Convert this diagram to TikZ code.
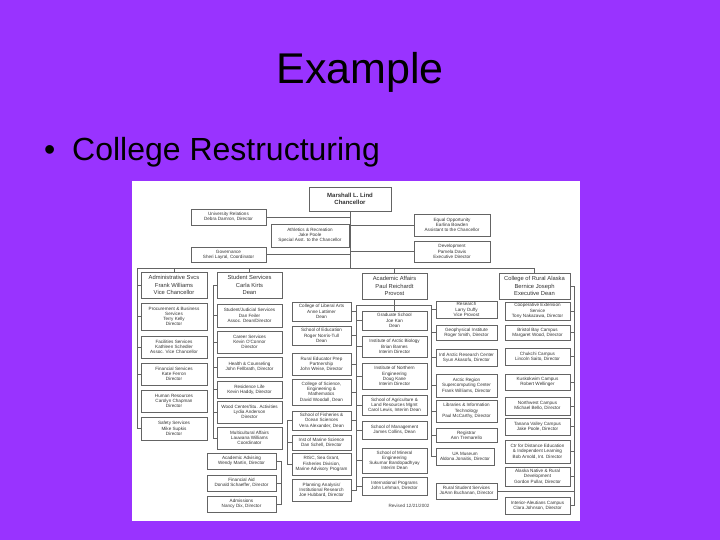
\documentclass[tikz,border=0pt]{standalone}
\usepackage{fontspec}
\setmainfont{Liberation Sans}
\definecolor{bg}{RGB}{153,51,255}
\definecolor{ln}{RGB}{100,100,100}
\tikzset{
 box/.style={draw=ln, line width=0.5pt, fill=white, inner sep=0pt, align=center,
   font=\fontsize{4.6}{5.2}\selectfont, text=black!80},
 big/.style={font=\fontsize{5.8}{7.2}\selectfont},
 conn/.style={draw=ln, line width=0.5pt},
}
\newcommand\orgbox[7][]{%
 \pgfmathsetmacro\bw{#4-#2}\pgfmathsetmacro\bh{#5-#3}%
 \node[box,#1,minimum width=\bw pt,minimum height=\bh pt] (#6) at ({(#2+#4)/2},{(#3+#5)/2}) {#7};}
\begin{document}
\begin{tikzpicture}[x=1pt,y=-1pt]
\fill[bg] (0,0) rectangle (720,540);
\useasboundingbox (0,0) rectangle (720,540);
% title and bullet
\node[anchor=base,inner sep=0pt,font=\fontsize{43}{43}\selectfont] (title) at (360,84) {Example};
\node[anchor=base west,inner sep=0pt,font=\fontsize{32}{32}\selectfont] (bul) at (44,161) {•};
\node[anchor=base west,inner sep=0pt,font=\fontsize{32}{32}\selectfont] (item) at (72,161) {College Restructuring};
% chart background
\fill[white] (132,181) rectangle (580,521);
% top level
\orgbox[font=\fontsize{6}{7.4}\selectfont\bfseries]{309}{187}{391}{211}{chanc}{Marshall L. Lind\\Chancellor}
\orgbox{191}{209}{266}{225}{ur}{University Relations\\Debra Damron, Director}
\orgbox{191}{247}{266}{262}{gov}{Governance\\Sheri Layral, Coordinator}
\orgbox{271}{224}{349}{247}{ath}{Athletics \& Recreation\\Jake Poole\\Special Asst. to the Chancellor}
\orgbox{414}{214}{490}{236}{eo}{Equal Opportunity\\Earlina Bowden\\Assistant to the Chancellor}
\orgbox{414}{241}{490}{262}{dev}{Development\\Pamela Davis\\Executive Director}
% level 2
\orgbox[big]{141}{272}{207}{298}{admin}{Administrative Svcs\\Frank Williams\\Vice Chancellor}
\orgbox[big]{217}{272}{282}{298}{ss}{Student Services\\Carla Kirts\\Dean}
\orgbox[big]{362}{273}{427}{299}{aa}{Academic Affairs\\Paul Reichardt\\Provost}
\orgbox[big]{499}{273}{570}{299}{cra}{College of Rural Alaska\\Bernice Joseph\\Executive Dean}
% admin column
\orgbox{141}{303}{207}{330}{proc}{Procurement \& Business\\Services\\Terry Kelly\\Director}
\orgbox{141}{336}{207}{358}{fac}{Facilities Services\\Kathleen Schedler\\Assoc. Vice Chancellor}
\orgbox{141}{363}{207}{385}{fin}{Financial Services\\Kate Ferron\\Director}
\orgbox{141}{390}{207}{412}{hr}{Human Resources\\Carolyn Chapman\\Director}
\orgbox{141}{417}{207}{440}{safe}{Safety Services\\Mike Supkis\\Director}
% student column
\orgbox{217}{304}{282}{327}{sjs}{Student/Judicial Services\\Dan Feiler\\Assoc. Dean/Director}
\orgbox{217}{331}{282}{353}{car}{Career Services\\Kevin O'Connor\\Director}
\orgbox{217}{357}{282}{377}{hc}{Health \& Counseling\\John Fellbrath, Director}
\orgbox{217}{381}{282}{398}{rl}{Residence Life\\Kevin Haddy, Director}
\orgbox{217}{401}{282}{423}{wc}{Wood Center/Stu. Activities\\Lydia Anderson\\Director}
\orgbox{217}{427}{282}{449}{mc}{Multicultural Affairs\\Lauwana Williams\\Coordinator}
% bottom left
\orgbox{207}{453}{276}{469}{acad}{Academic Advising\\Wendy Martin, Director}
\orgbox{207}{475}{276}{491}{fa}{Financial Aid\\Donald Schaeffer, Director}
\orgbox{207}{496}{276}{512}{adm}{Admissions\\Nancy Dix, Director}
% middle left
\orgbox{292}{302}{351}{321}{cla}{College of Liberal Arts\\Anne Lattimer\\Dean}
\orgbox{292}{326}{351}{345}{soe}{School of Education\\Roger Norris-Tull\\Dean}
\orgbox{292}{353}{351}{375}{repp}{Rural Educator Prep\\Partnership\\John Weise, Director}
\orgbox{292}{379}{351}{405}{csem}{College of Science,\\Engineering \&\\Mathematics\\David Woodall, Dean}
\orgbox{292}{411}{351}{430}{sfos}{School of Fisheries \&\\Ocean Sciences\\Vera Alexander, Dean}
\orgbox{292}{435}{351}{450}{ims}{Inst of Marine Science\\Dan Schell, Director}
\orgbox{292}{453}{351}{475}{risc}{RISC, Sea Grant,\\Fisheries Division,\\Marine Advisory Program}
\orgbox{292}{479}{351}{501}{pair}{Planning Analysis/\\Institutional Research\\Joe Hubbard, Director}
% middle right
\orgbox{362}{311}{427}{330}{grad}{Graduate School\\Joe Kan\\Dean}
\orgbox{362}{336}{427}{357}{iab}{Institute of Arctic Biology\\Brian Barnes\\Interim Director}
\orgbox{362}{363}{427}{389}{ine}{Institute of Northern\\Engineering\\Doug Kane\\Interim Director}
\orgbox{362}{395}{427}{415}{salrm}{School of Agriculture \&\\Land Resources Mgmt\\Carol Lewis, Interim Dean}
\orgbox{362}{421}{427}{439}{som}{School of Management\\James Collins, Dean}
\orgbox{362}{448}{427}{473}{sme}{School of Mineral\\Engineering\\Sukumar Bandopadhyay\\Interim Dean}
\orgbox{362}{477}{427}{495}{ip}{International Programs\\John Lehman, Director}
\node[inner sep=0pt,font=\fontsize{4.6}{5.2}\selectfont,text=black!75] (rev) at (409,506) {Revised 12/21/2002};
% research column
\orgbox{436}{301}{497}{318}{res}{Research\\Larry Duffy\\Vice Provost}
\orgbox{436}{325}{497}{340}{gi}{Geophysical Institute\\Roger Smith, Director}
\orgbox{436}{349}{497}{366}{iarc}{Intl Arctic Research Center\\Syun Akasofu, Director}
\orgbox{436}{374}{497}{397}{arsc}{Arctic Region\\Supercomputing Center\\Frank Williams, Director}
\orgbox{436}{400}{497}{422}{lib}{Libraries \& Information\\Technology\\Paul McCarthy, Director}
\orgbox{436}{428}{497}{442}{reg}{Registrar\\Ann Tremarello}
\orgbox{436}{448}{494}{465}{mus}{UA Museum\\Aldona Jonaitis, Director}
\orgbox{436}{483}{497}{499}{rss}{Rural Student Services\\JoAnn Buchanan, Director}
% CRA column
\orgbox{505}{302}{570}{320}{ces}{Cooperative Extension\\Service\\Tony Nakazawa, Director}
\orgbox{505}{325}{570}{340}{bb}{Bristol Bay Campus\\Margaret Wood, Director}
\orgbox{505}{348}{570}{365}{chuk}{Chukchi Campus\\Lincoln Saito, Director}
\orgbox{505}{374}{570}{390}{kusk}{Kuskokwim Campus\\Robert Wellinger}
\orgbox{505}{397}{570}{415}{nw}{Northwest Campus\\Michael Bello, Director}
\orgbox{505}{418}{570}{435}{tvc}{Tanana Valley Campus\\Jake Poole, Director}
\orgbox{505}{440}{570}{463}{cde}{Ctr for Distance Education\\\& Independent Learning\\Bob Arnold, Int. Director}
\orgbox{505}{467}{570}{486}{anrd}{Alaska Native \& Rural\\Development\\Gordon Pullar, Director}
\orgbox{505}{497}{570}{514}{iac}{Interior-Aleutians Campus\\Clara Johnson, Director}
% connectors
\coordinate (hl) at (174,268);
\coordinate (hr) at (534.5,268);
\draw[conn] (hl) -- (hr);
\draw[conn] (chanc.south) -- (chanc.south |- hl);
\foreach \n in {admin,ss,aa,cra} \draw[conn] (\n.north) -- (\n.north |- hl);
\foreach \n in {ur,gov,ath} \draw[conn] (\n.east) -- (\n.east -| chanc.south);
\foreach \n in {eo,dev} \draw[conn] (\n.west) -- (\n.west -| chanc.south);
% admin spine
\coordinate (asp) at (137,285);
\draw[conn] (admin.west) -- (asp);
\foreach \n in {proc,fac,fin,hr,safe} \draw[conn] (asp) |- (\n.west);
% student spine
\coordinate (ssp) at (213,285);
\draw[conn] (ss.west) -- (ssp);
\foreach \n in {sjs,car,hc,rl,wc,mc} \draw[conn] (ssp) |- (\n.west);
% academic
\coordinate (al) at (356.5,305);
\coordinate (ar) at (431,305);
\draw[conn] (aa.south) -- (grad.north);
\draw[conn] (al) -- (ar);
\foreach \n in {cla,soe,repp,csem,sfos,pair} \draw[conn] (al) |- (\n.east);
\foreach \n in {grad,iab,ine,salrm,som,sme,ip} \draw[conn] (al) |- (\n.west);
\foreach \n in {res,gi,iarc,arsc,lib,reg,mus} \draw[conn] (ar) |- (\n.west);
\coordinate (fs) at (287,420.5);
\draw[conn] (sfos.west) -- (fs);
\foreach \n in {ims,risc} \draw[conn] (fs) |- (\n.west);
\coordinate (adv) at (281,461);
\draw[conn] (acad.east) -- (adv);
\foreach \n in {fa,adm} \draw[conn] (adv) |- (\n.east);
% CRA spine
\coordinate (csp) at (574,286);
\draw[conn] (cra.east) -- (csp);
\foreach \n in {ces,bb,chuk,kusk,nw,tvc,cde,anrd,iac} \draw[conn] (csp) |- (\n.east);
\draw[conn] (rss.east) -- (rss.east -| csp);
\end{tikzpicture}
\end{document}
